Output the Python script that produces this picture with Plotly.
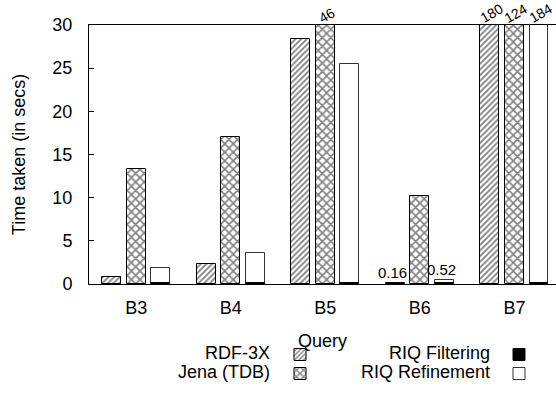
import plotly.graph_objects as go

queries = ["B3", "B4", "B5", "B6", "B7"]
rdf3x = [0.8, 2.3, 28.4, 0.16, 180]
jena = [13.3, 17.0, 46, 10.2, 124]
riq_filtering = [0.12, 0.12, 0.1, 0.1, 0.12]
riq_refinement = [1.85, 3.6, 25.5, 0.52, 184]
y_ticks = [0, 5, 10, 15, 20, 25, 30]

YMAX = 30
FONT = "Liberation Sans, Arial, Helvetica, sans-serif"
pos = list(range(len(queries)))
off = 0.26
bw = 0.2

fig = go.Figure()
fig.add_bar(x=[p - off for p in pos], y=rdf3x, width=bw, name=" ", legend="legend",
            marker=dict(color="white", line=dict(color="black", width=1),
                        pattern=dict(shape="/", fgcolor="black", bgcolor="white", size=4, solidity=0.45)),
            showlegend=True)
fig.add_bar(x=pos, y=jena, width=bw, name=" ", legend="legend",
            marker=dict(color="white", line=dict(color="black", width=1),
                        pattern=dict(shape="x", fgcolor="black", bgcolor="white", size=6, solidity=0.45)),
            showlegend=True)
fig.add_bar(x=[p + off for p in pos], y=riq_refinement, width=bw, name=" ", legend="legend2",
            legendrank=2,
            marker=dict(color="white", line=dict(color="#333", width=1)), showlegend=True)
fig.add_bar(x=[p + off for p in pos], y=riq_filtering, width=bw, name=" ", legend="legend2",
            legendrank=1,
            marker=dict(color="black", line=dict(color="black", width=1)), showlegend=True)

annotations = []
for series, dx in ((rdf3x, -off), (jena, 0), (riq_refinement, off)):
    for p, v in zip(pos, series):
        if v > YMAX:
            annotations.append(dict(x=p + dx, y=YMAX, text=f"{v:g}", showarrow=False,
                                    textangle=-30, yanchor="bottom", yshift=-4, xshift=2,
                                    font=dict(family=FONT, size=14, color="black")))
        elif v < 0.6:
            annotations.append(dict(x=p + dx, y=v, text=f"{v:g}", showarrow=False,
                                    yanchor="bottom", yshift=0, xshift=-3,
                                    font=dict(family=FONT, size=15, color="black")))

H = 417
W = 556
legend_texts = [("RDF-3X", 272, 353), ("Jena (TDB)", 272, 372),
                ("RIQ Filtering", 492, 353), ("RIQ Refinement", 492, 372)]
for t, xp, yp in legend_texts:
    annotations.append(dict(xref="paper", yref="paper", x=(xp - 89) / (W - 89),
                            y=(284 - yp) / (284 - 25), text=t, showarrow=False,
                            xanchor="right", yanchor="middle",
                            font=dict(family=FONT, size=18, color="black")))

fig.update_layout(
    width=W, height=H,
    margin=dict(l=89, r=0, t=25, b=133),
    plot_bgcolor="white", paper_bgcolor="white",
    barmode="overlay", bargap=0,
    font=dict(family=FONT, size=18, color="black"),
    annotations=annotations,
    legend=dict(x=(280 - 89) / (W - 89), y=(284 - 340) / (284 - 25), xanchor="left", yanchor="top",
                bgcolor="rgba(0,0,0,0)", itemwidth=30, tracegroupgap=0,
                font=dict(size=12), traceorder="normal"),
    legend2=dict(x=(499 - 89) / (W - 89), y=(284 - 340) / (284 - 25), xanchor="left", yanchor="top",
                 bgcolor="rgba(0,0,0,0)", itemwidth=30, tracegroupgap=0,
                 font=dict(size=12), traceorder="normal"),
    xaxis=dict(range=[-0.5, 4.44], tickvals=pos, ticktext=queries, showline=True,
               linecolor="black", linewidth=1, mirror=True, ticks="", showgrid=False,
               zeroline=False, ticklabelstandoff=7,
               title=dict(text="Query", font=dict(size=18), standoff=17)),
    yaxis=dict(range=[0, YMAX], tickvals=y_ticks, showline=True, linecolor="black",
               linewidth=1, ticks="inside", ticklen=5, tickcolor="black", showgrid=False,
               zeroline=False, ticklabelstandoff=12,
               title=dict(text="Time taken (in secs)", font=dict(size=18), standoff=22)),
)

fig.write_html("out.html")
